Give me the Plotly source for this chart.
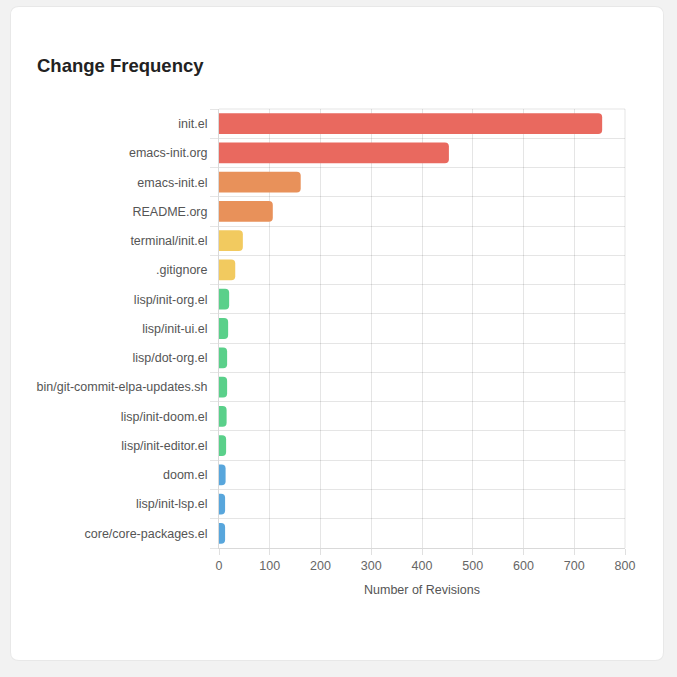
import plotly.graph_objects as go

files = ["init.el", "emacs-init.org", "emacs-init.el", "README.org", "terminal/init.el",
         ".gitignore", "lisp/init-org.el", "lisp/init-ui.el", "lisp/dot-org.el",
         "bin/git-commit-elpa-updates.sh", "lisp/init-doom.el", "lisp/init-editor.el",
         "doom.el", "lisp/init-lsp.el", "core/core-packages.el"]
revisions = [755, 453, 161, 106, 47, 32, 20, 18, 16, 16, 15, 14, 13, 12, 12]
bar_colors = ["#E9695F", "#E9695F",
              "#E8915A", "#E8915A",
              "#F2CA5F", "#F2CA5F",
              "#5AD08A", "#5AD08A", "#5AD08A", "#5AD08A", "#5AD08A", "#5AD08A",
              "#58A6DC", "#58A6DC", "#58A6DC"]
x_ticks = [0, 100, 200, 300, 400, 500, 600, 700, 800]

W, H = 677, 677
L, R, T, B = 219, 625, 109, 548
pw, ph = R - L, B - T

def px(x):
    return (x - L) / pw

def py(y):
    return (B - y) / ph

def card_path(x0, y0, x1, y1, r):
    rx, ry = r / pw, r / ph
    X0, X1 = px(x0), px(x1)
    Yt, Yb = py(y0), py(y1)
    return (f"M {X0+rx},{Yt} L {X1-rx},{Yt} Q {X1},{Yt} {X1},{Yt-ry} "
            f"L {X1},{Yb+ry} Q {X1},{Yb} {X1-rx},{Yb} L {X0+rx},{Yb} "
            f"Q {X0},{Yb} {X0},{Yb+ry} L {X0},{Yt-ry} Q {X0},{Yt} {X0+rx},{Yt} Z")

# category slots (index positions of the file list)
slots = list(range(len(files)))
boundaries = [i - 0.5 for i in range(len(files) + 1)]

fig = go.Figure(go.Bar(
    x=revisions, y=slots, orientation="h",
    marker=dict(color=bar_colors, cornerradius=4, line=dict(width=0)),
    width=0.71,
))

font_family = "Liberation Sans, Arial, sans-serif"
fig.update_layout(
    width=W, height=H,
    margin=dict(l=L, r=W - R, t=T, b=H - B, pad=0),
    paper_bgcolor="#f2f2f2",
    plot_bgcolor="white",
    showlegend=False,
    font=dict(family=font_family, size=12.5, color="#555"),
    shapes=[
        dict(type="path", xref="paper", yref="paper", path=card_path(10, 6, 664, 661, 9),
             fillcolor="rgba(0,0,0,0.04)", line=dict(width=0), layer="below"),
        dict(type="path", xref="paper", yref="paper", path=card_path(11, 7, 663, 660, 8),
             fillcolor="white", line=dict(width=0), layer="below"),
    ],
    annotations=[dict(
        text="<b>Change Frequency</b>", xref="paper", yref="paper",
        x=px(35), y=py(65), xanchor="left", yanchor="middle", showarrow=False,
        font=dict(family=font_family, size=18.5, color="#222"),
    )],
    xaxis=dict(
        range=[0, 800], tickvals=x_ticks, ticktext=[str(v) for v in x_ticks],
        showgrid=True, gridcolor="rgba(0,0,0,0.1)", gridwidth=1,
        zeroline=False, showline=True, linecolor="rgba(0,0,0,0.15)", mirror=False,
        ticks="outside", ticklen=6, tickcolor="rgba(0,0,0,0.12)",
        tickfont=dict(size=12.5, color="#666"),
        title=dict(text="Number of Revisions", standoff=13, font=dict(size=12.5, color="#555")),
        fixedrange=True,
    ),
    yaxis=dict(
        range=[len(files) - 0.5, -0.5],
        tickmode="array", tickvals=slots, ticktext=files,
        ticks="", showgrid=False, zeroline=False,
        showline=True, linecolor="rgba(0,0,0,0.15)",
        tickfont=dict(size=12.5, color="#555"),
        ticklabelstandoff=8,
        minor=dict(tickmode="array", tickvals=boundaries, showgrid=True,
                   gridcolor="rgba(0,0,0,0.1)", gridwidth=1,
                   ticks="outside", ticklen=8, tickcolor="rgba(0,0,0,0.1)"),
        fixedrange=True,
    ),
)
fig.add_shape(type="line", xref="paper", yref="paper", x0=1, x1=1, y0=0, y1=1,
              line=dict(color="rgba(0,0,0,0.1)", width=1))
fig.add_shape(type="line", xref="paper", yref="paper", x0=0, x1=1, y0=1, y1=1,
              line=dict(color="rgba(0,0,0,0.1)", width=1))

fig.write_html(
    "out.html",
    config={"displayModeBar": False},
    post_script="document.body.style.margin='0';document.body.style.background='#f2f2f2';",
)
